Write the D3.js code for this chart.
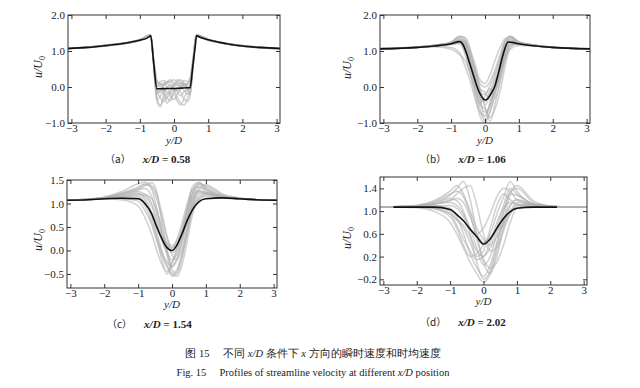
<!DOCTYPE html>
<html>
<head>
<meta charset="utf-8">
<script src="https://cdn.jsdelivr.net/npm/d3@7"></script>
<style>
    body { margin: 0; background: #fff; }
    svg { display: block; }
    text { font-family: "Liberation Serif", "DejaVu Serif", serif; fill: #222; }
</style>
</head>
<body>
<div id="chart"></div>
<script>
// ---- data ----
const xTicks = [-3, -2, -1, 0, 1, 2, 3];
const yTicksAB = [-1, 0, 1, 2];
const yTicksC = [-0.5, 0, 0.5, 1.0, 1.5];
const yTicksD = [-0.2, 0.2, 0.6, 1.0, 1.4];

// (a) x/D = 0.58
const aMeanX = [-3.1, -2.5, -2, -1.5, -1, -0.8, -0.68, -0.6, -0.5, -0.4, -0.2, 0, 0.2, 0.4, 0.47, 0.55, 0.62, 0.66, 0.8, 1, 1.5, 2, 2.5, 3.1];
const aMean = [1.07, 1.10, 1.15, 1.21, 1.30, 1.35, 1.42, 0.72, -0.05, -0.05, -0.04, -0.04, -0.03, -0.02, -0.02, 0.58, 1.12, 1.42, 1.37, 1.31, 1.21, 1.14, 1.10, 1.07];
const aGrayX = [-3.1, -2, -1, -0.68, -0.6, -0.5, -0.4, -0.3, -0.2, -0.1, 0, 0.1, 0.2, 0.3, 0.4, 0.47, 0.55, 0.65, 1, 2, 3.1];
const aGray = [
    [1.07, 1.15, 1.30, 1.43, 0.75, 0.10, 0.15, 0.18, 0.12, 0.16, 0.20, 0.14, 0.10, 0.18, 0.15, 0.18, 0.65, 1.43, 1.31, 1.14, 1.07],
    [1.08, 1.16, 1.31, 1.45, 0.70, -0.30, -0.50, -0.35, -0.20, -0.10, -0.05, -0.15, -0.25, -0.12, -0.05, 0.00, 0.60, 1.45, 1.32, 1.15, 1.07],
    [1.07, 1.14, 1.29, 1.41, 0.70, -0.20, -0.10, 0.05, 0.10, 0.00, -0.10, -0.30, -0.45, -0.50, -0.30, -0.10, 0.55, 1.41, 1.30, 1.13, 1.06],
    [1.06, 1.15, 1.30, 1.42, 0.78, 0.05, 0.00, -0.05, -0.15, -0.20, -0.10, 0.00, 0.05, 0.10, 0.05, 0.10, 0.62, 1.42, 1.31, 1.14, 1.06],
    [1.07, 1.16, 1.32, 1.44, 0.72, -0.10, -0.30, -0.40, -0.30, -0.15, 0.05, 0.10, 0.00, -0.10, -0.20, -0.15, 0.50, 1.44, 1.33, 1.15, 1.07],
    [1.07, 1.15, 1.30, 1.42, 0.80, 0.15, 0.10, 0.05, 0.15, 0.20, 0.10, 0.05, 0.12, 0.05, 0.10, 0.25, 0.70, 1.42, 1.31, 1.14, 1.07],
    [1.08, 1.14, 1.29, 1.40, 0.65, -0.35, -0.25, -0.10, -0.05, -0.25, -0.35, -0.20, -0.05, 0.05, 0.00, -0.05, 0.55, 1.40, 1.30, 1.14, 1.07],
    [1.06, 1.15, 1.31, 1.43, 0.74, 0.00, 0.10, -0.10, -0.30, -0.38, -0.20, -0.40, -0.50, -0.30, -0.10, 0.05, 0.60, 1.43, 1.32, 1.14, 1.06],
    [1.07, 1.15, 1.30, 1.41, 0.76, -0.05, -0.15, 0.05, 0.15, 0.12, 0.00, 0.15, 0.20, 0.10, -0.05, -0.20, 0.50, 1.41, 1.30, 1.13, 1.06],
    [1.07, 1.16, 1.31, 1.44, 0.70, -0.40, -0.55, -0.20, 0.00, 0.05, -0.05, -0.10, 0.00, 0.08, -0.08, 0.02, 0.65, 1.44, 1.32, 1.15, 1.07],
    [1.07, 1.15, 1.31, 1.46, 0.85, 0.20, 0.05, 0.12, 0.00, -0.05, 0.08, 0.20, 0.15, 0.00, 0.12, 0.22, 0.75, 1.46, 1.32, 1.14, 1.07],
    [1.07, 1.14, 1.30, 1.42, 0.72, -0.15, -0.05, -0.20, -0.45, -0.30, -0.15, -0.05, -0.15, -0.35, -0.40, -0.25, 0.45, 1.42, 1.31, 1.14, 1.07]
];

// (b) x/D = 1.06
const bMeanX = [-3.1, -2, -1.5, -1, -0.75, -0.65, -0.55, -0.45, -0.35, -0.25, -0.15, -0.05, 0.02, 0.1, 0.2, 0.3, 0.4, 0.5, 0.6, 0.68, 0.8, 1, 1.5, 2, 3.1];
const bMean = [1.06, 1.10, 1.14, 1.20, 1.26, 1.18, 0.95, 0.65, 0.35, 0.05, -0.18, -0.33, -0.36, -0.30, -0.15, 0.05, 0.40, 0.78, 1.10, 1.25, 1.24, 1.20, 1.14, 1.10, 1.06];
const bGrayX = [-3.1, -2, -1.5, -1, -0.75, -0.6, -0.45, -0.3, -0.15, 0, 0.15, 0.3, 0.45, 0.6, 0.75, 1, 1.5, 2, 3.1];
const bGray = [
    [1.06, 1.11, 1.16, 1.24, 1.38, 1.30, 0.90, 0.30, -0.40, -0.70, -0.50, 0.00, 0.60, 1.20, 1.40, 1.26, 1.16, 1.11, 1.06],
    [1.06, 1.10, 1.14, 1.18, 1.20, 0.95, 0.40, -0.10, -0.60, -0.95, -0.70, -0.20, 0.40, 0.95, 1.20, 1.18, 1.14, 1.10, 1.06],
    [1.07, 1.11, 1.15, 1.22, 1.30, 1.20, 0.85, 0.45, 0.10, 0.00, 0.15, 0.50, 0.90, 1.25, 1.32, 1.22, 1.15, 1.10, 1.06],
    [1.06, 1.10, 1.13, 1.10, 0.95, 0.60, 0.20, -0.30, -0.70, -0.80, -0.50, -0.10, 0.30, 0.80, 1.15, 1.20, 1.15, 1.10, 1.06],
    [1.06, 1.11, 1.16, 1.25, 1.42, 1.35, 1.00, 0.50, -0.10, -0.50, -0.20, 0.30, 0.85, 1.30, 1.42, 1.25, 1.16, 1.11, 1.06],
    [1.06, 1.10, 1.14, 1.20, 1.25, 1.10, 0.60, 0.00, -0.50, -0.60, -0.85, -0.60, -0.10, 0.60, 1.10, 1.22, 1.15, 1.10, 1.06],
    [1.07, 1.10, 1.14, 1.19, 1.22, 1.05, 0.75, 0.30, -0.20, -0.20, 0.05, 0.40, 0.75, 1.15, 1.30, 1.22, 1.14, 1.10, 1.06],
    [1.06, 1.11, 1.15, 1.23, 1.35, 1.25, 0.80, 0.10, -0.45, -0.25, -0.05, -0.30, 0.20, 0.90, 1.25, 1.21, 1.15, 1.10, 1.06],
    [1.06, 1.10, 1.12, 1.05, 0.90, 0.75, 0.40, 0.00, -0.30, -0.40, -0.10, 0.20, 0.50, 0.85, 1.05, 1.15, 1.14, 1.10, 1.06],
    [1.06, 1.10, 1.14, 1.21, 1.30, 1.15, 0.70, 0.25, -0.05, -0.15, -0.35, -0.05, 0.45, 1.10, 1.35, 1.24, 1.15, 1.10, 1.06],
    [1.06, 1.10, 1.15, 1.22, 1.28, 1.00, 0.45, -0.20, -0.80, -1.00, -0.65, -0.15, 0.35, 0.95, 1.25, 1.21, 1.15, 1.10, 1.06],
    [1.07, 1.11, 1.15, 1.22, 1.32, 1.28, 1.05, 0.65, 0.20, 0.10, 0.35, 0.75, 1.10, 1.35, 1.38, 1.23, 1.15, 1.10, 1.06],
    [1.06, 1.10, 1.14, 1.20, 1.28, 1.22, 0.95, 0.55, 0.00, -0.55, -0.95, -0.45, 0.15, 0.75, 1.18, 1.20, 1.14, 1.10, 1.06],
    [1.06, 1.11, 1.15, 1.24, 1.40, 1.38, 1.10, 0.40, -0.25, -0.90, -0.40, 0.10, 0.70, 1.28, 1.40, 1.24, 1.15, 1.10, 1.06]
];

// (c) x/D = 1.54
const cMeanX = [-3.1, -2.5, -2, -1.5, -1, -0.8, -0.6, -0.45, -0.3, -0.15, 0, 0.15, 0.3, 0.45, 0.6, 0.8, 1, 1.5, 2, 2.5, 3.1];
const cMean = [1.07, 1.08, 1.10, 1.11, 1.10, 1.00, 0.78, 0.50, 0.25, 0.06, 0.00, 0.12, 0.36, 0.64, 0.86, 1.04, 1.10, 1.12, 1.10, 1.08, 1.07];
const cGrayX = cMeanX;
const cGray = [
    [1.07, 1.09, 1.13, 1.22, 1.35, 1.42, 1.30, 0.90, 0.40, 0.00, -0.35, -0.20, 0.20, 0.70, 1.10, 1.25, 1.20, 1.13, 1.10, 1.08, 1.07],
    [1.07, 1.08, 1.10, 1.10, 1.05, 0.85, 0.55, 0.20, -0.10, -0.35, -0.50, -0.40, -0.05, 0.45, 0.95, 1.30, 1.40, 1.20, 1.12, 1.08, 1.07],
    [1.07, 1.09, 1.12, 1.18, 1.25, 1.20, 1.00, 0.70, 0.35, 0.10, 0.05, 0.25, 0.60, 1.00, 1.30, 1.35, 1.25, 1.14, 1.10, 1.08, 1.07],
    [1.07, 1.08, 1.11, 1.15, 1.20, 1.10, 0.80, 0.40, 0.00, -0.30, -0.55, -0.45, -0.10, 0.40, 0.85, 1.15, 1.20, 1.14, 1.10, 1.08, 1.07],
    [1.07, 1.09, 1.14, 1.25, 1.42, 1.45, 1.35, 1.10, 0.70, 0.30, 0.05, 0.15, 0.45, 0.90, 1.35, 1.45, 1.30, 1.15, 1.10, 1.08, 1.07],
    [1.07, 1.08, 1.10, 1.08, 0.95, 0.70, 0.35, 0.00, -0.30, -0.45, -0.25, 0.10, 0.50, 0.90, 1.20, 1.28, 1.22, 1.13, 1.10, 1.08, 1.07],
    [1.07, 1.08, 1.11, 1.16, 1.22, 1.15, 0.95, 0.60, 0.20, -0.05, -0.20, -0.05, 0.30, 0.75, 1.15, 1.40, 1.35, 1.16, 1.10, 1.08, 1.07],
    [1.07, 1.09, 1.12, 1.20, 1.30, 1.32, 1.15, 0.80, 0.35, -0.10, -0.50, -0.55, -0.30, 0.20, 0.75, 1.10, 1.18, 1.14, 1.10, 1.08, 1.07],
    [1.07, 1.08, 1.10, 1.12, 1.10, 1.00, 0.80, 0.55, 0.30, 0.15, 0.10, 0.20, 0.40, 0.70, 0.95, 1.10, 1.15, 1.12, 1.10, 1.08, 1.07],
    [1.07, 1.09, 1.13, 1.21, 1.32, 1.40, 1.38, 1.20, 0.80, 0.30, -0.10, -0.20, 0.05, 0.50, 1.00, 1.35, 1.30, 1.15, 1.10, 1.08, 1.07],
    [1.07, 1.08, 1.11, 1.14, 1.15, 1.05, 0.70, 0.30, -0.05, -0.25, -0.35, -0.15, 0.20, 0.60, 1.05, 1.25, 1.24, 1.14, 1.10, 1.08, 1.07],
    [1.07, 1.08, 1.10, 1.13, 1.18, 1.18, 1.10, 0.85, 0.50, 0.15, -0.05, 0.05, 0.35, 0.80, 1.20, 1.42, 1.38, 1.18, 1.11, 1.08, 1.07],
    [1.07, 1.09, 1.12, 1.19, 1.28, 1.38, 1.44, 1.25, 0.60, 0.05, -0.40, -0.50, -0.15, 0.35, 0.90, 1.20, 1.22, 1.14, 1.10, 1.08, 1.07],
    [1.07, 1.08, 1.10, 1.12, 1.12, 0.95, 0.60, 0.25, -0.20, -0.50, -0.30, 0.00, 0.40, 0.85, 1.25, 1.44, 1.32, 1.15, 1.10, 1.08, 1.07]
];

// (d) x/D = 2.02
const dMeanX = [-2.7, -2, -1.5, -1, -0.8, -0.6, -0.4, -0.2, 0, 0.2, 0.4, 0.6, 0.8, 1, 1.5, 2.2];
const dMean = [1.07, 1.07, 1.07, 1.03, 0.94, 0.83, 0.68, 0.55, 0.42, 0.51, 0.70, 0.87, 0.99, 1.05, 1.07, 1.07];
const dGrayX = [-3.1, -2.5, -2, -1.5, -1, -0.8, -0.6, -0.4, -0.2, 0, 0.2, 0.4, 0.6, 0.8, 1, 1.5, 2, 2.5, 3.1];
const dGray = [
    [1.07, 1.08, 1.10, 1.15, 1.28, 1.40, 1.52, 1.20, 0.60, 0.10, -0.10, 0.20, 0.70, 1.10, 1.20, 1.10, 1.08, 1.07, 1.07],
    [1.07, 1.07, 1.06, 1.00, 0.80, 0.60, 0.35, 0.10, -0.10, -0.25, -0.10, 0.30, 0.80, 1.30, 1.45, 1.18, 1.09, 1.07, 1.07],
    [1.07, 1.08, 1.09, 1.12, 1.18, 1.22, 1.15, 0.90, 0.60, 0.45, 0.60, 0.95, 1.25, 1.52, 1.35, 1.12, 1.08, 1.07, 1.07],
    [1.07, 1.07, 1.07, 1.05, 0.95, 0.75, 0.50, 0.30, 0.15, 0.20, 0.45, 0.80, 1.05, 1.15, 1.12, 1.08, 1.07, 1.07, 1.07],
    [1.07, 1.08, 1.10, 1.16, 1.30, 1.35, 1.25, 0.95, 0.50, 0.15, 0.00, 0.10, 0.40, 0.80, 1.05, 1.12, 1.09, 1.07, 1.07],
    [1.07, 1.07, 1.07, 1.08, 1.10, 1.05, 0.90, 0.70, 0.60, 0.70, 0.95, 1.25, 1.40, 1.35, 1.20, 1.10, 1.08, 1.07, 1.07],
    [1.07, 1.07, 1.08, 1.10, 1.05, 0.90, 0.60, 0.25, 0.00, -0.15, 0.05, 0.45, 0.85, 1.10, 1.20, 1.12, 1.08, 1.07, 1.07],
    [1.07, 1.08, 1.09, 1.13, 1.20, 1.30, 1.40, 1.45, 1.10, 0.60, 0.30, 0.35, 0.65, 0.95, 1.10, 1.10, 1.08, 1.07, 1.07],
    [1.07, 1.07, 1.07, 1.04, 0.90, 0.70, 0.40, 0.20, 0.25, 0.40, 0.55, 0.65, 0.80, 1.00, 1.15, 1.12, 1.08, 1.07, 1.07],
    [1.07, 1.08, 1.09, 1.12, 1.15, 1.10, 0.95, 0.70, 0.35, 0.05, 0.20, 0.60, 1.00, 1.30, 1.28, 1.12, 1.08, 1.07, 1.07],
    [1.07, 1.07, 1.08, 1.09, 1.00, 0.85, 0.75, 0.55, 0.30, 0.20, 0.35, 0.55, 0.75, 0.95, 1.10, 1.12, 1.09, 1.07, 1.07],
    [1.07, 1.08, 1.10, 1.18, 1.35, 1.45, 1.30, 1.00, 0.70, 0.50, 0.40, 0.70, 1.10, 1.40, 1.30, 1.12, 1.08, 1.07, 1.07],
    [1.07, 1.07, 1.08, 1.12, 1.22, 1.18, 1.00, 0.60, 0.10, -0.20, -0.05, 0.40, 0.95, 1.35, 1.40, 1.15, 1.08, 1.07, 1.07],
    [1.07, 1.08, 1.09, 1.06, 0.95, 0.85, 0.70, 0.45, 0.20, 0.30, 0.70, 1.10, 1.30, 1.20, 1.12, 1.09, 1.08, 1.07, 1.07]
];

const fmtY1 = d3.format(".1f");
const minus = s => s.replace("-", "\u2212");

function panel(svg, p) {
    const x = d3.scaleLinear().domain([-3.1, 3.1]).range([p.left, p.right]);
    const y = d3.scaleLinear().domain(p.yDomain).range([p.bottom, p.top]);
    const g = svg.append("g");

    const line = d3.line()
        .x(d => x(d[0]))
        .y(d => y(d[1]))
        .curve(d3.curveMonotoneX);

    const clipId = "clip" + p.name;
    svg.append("clipPath").attr("id", clipId)
        .append("rect")
        .attr("x", p.left).attr("y", p.top)
        .attr("width", p.right - p.left).attr("height", p.bottom - p.top);

    const plot = g.append("g").attr("clip-path", "url(#" + clipId + ")");

    plot.selectAll("path.gray")
        .data(p.gray)
        .enter()
        .append("path")
        .attr("class", "gray")
        .attr("d", vals => line(p.grayX.map((v, i) => [v, vals[i]])))
        .attr("fill", "none")
        .attr("stroke", "#b0b0b0")
        .attr("stroke-opacity", 0.6)
        .attr("stroke-width", 1.5);

    plot.append("path")
        .attr("d", line(p.meanX.map((v, i) => [v, p.mean[i]])))
        .attr("fill", "none")
        .attr("stroke", "#111")
        .attr("stroke-width", 1.6);

    // frame
    g.append("rect")
        .attr("x", p.left).attr("y", p.top)
        .attr("width", p.right - p.left).attr("height", p.bottom - p.top)
        .attr("fill", "none")
        .attr("stroke", "#333")
        .attr("stroke-width", 1);

    // inward ticks on all sides
    const tl = 4;
    g.append("g").attr("transform", "translate(0," + p.bottom + ")")
        .call(d3.axisBottom(x).tickValues(xTicks).tickSize(-tl).tickPadding(1)
            .tickFormat(d => minus(String(d))))
        .call(a => a.select(".domain").remove());
    g.append("g").attr("transform", "translate(0," + p.top + ")")
        .call(d3.axisTop(x).tickValues(xTicks).tickSize(-tl).tickFormat(""))
        .call(a => a.select(".domain").remove());
    g.append("g").attr("transform", "translate(" + p.left + ",0)")
        .call(d3.axisLeft(y).tickValues(p.yTicks).tickSize(-tl).tickPadding(3)
            .tickFormat(d => minus(fmtY1(d))))
        .call(a => a.select(".domain").remove());
    g.append("g").attr("transform", "translate(" + p.right + ",0)")
        .call(d3.axisRight(y).tickValues(p.yTicks).tickSize(-tl).tickFormat(""))
        .call(a => a.select(".domain").remove());

    g.selectAll("g").filter(function () { return this.hasAttribute("font-family"); })
        .attr("font-family", "Liberation Serif")
        .attr("font-size", 11);
    g.selectAll(".tick line").attr("stroke", "#333");
    g.selectAll(".tick text").attr("fill", "#222");

    // axis titles
    g.append("text")
        .attr("x", (p.left + p.right) / 2)
        .attr("y", p.xLabelY)
        .attr("text-anchor", "middle")
        .attr("font-size", 11)
        .attr("font-style", "italic")
        .text("y/D");

    const yl = g.append("text")
        .attr("transform", "translate(" + p.yLabelX + "," + p.yLabelY + ") rotate(-90)")
        .attr("text-anchor", "middle")
        .attr("font-size", 12)
        .attr("font-style", "italic");
    yl.append("tspan").text("u/U");
    yl.append("tspan").attr("font-size", 8).attr("dy", 3).attr("font-style", "normal").text("0");

    // sub caption
    const cap = svg.append("text")
        .attr("x", p.capX)
        .attr("y", p.capY)
        .attr("font-size", 11);
    cap.append("tspan").attr("font-family", "Noto Sans CJK SC").attr("font-size", 10).text("\uff08" + p.name + "\uff09");
    cap.append("tspan").attr("dx", 12).attr("font-style", "italic").attr("font-weight", "bold").text("x/D");
    cap.append("tspan").attr("font-weight", "bold").text(" = " + p.value);
}

function init() {
    const svg = d3.select("#chart")
        .append("svg")
        .attr("width", 640)
        .attr("height", 388);

    panel(svg, {
        name: "a", value: "0.58",
        left: 68, right: 280, top: 15, bottom: 123,
        yDomain: [-1, 2], yTicks: yTicksAB,
        meanX: aMeanX, mean: aMean, grayX: aGrayX, gray: aGray,
        xLabelY: 144, yLabelX: 42, yLabelY: 67,
        capX: 105, capY: 163
    });
    panel(svg, {
        name: "b", value: "1.06",
        left: 380, right: 590, top: 15, bottom: 123,
        yDomain: [-1, 2], yTicks: yTicksAB,
        meanX: bMeanX, mean: bMean, grayX: bGrayX, gray: bGray,
        xLabelY: 144, yLabelX: 351, yLabelY: 68,
        capX: 420, capY: 163
    });
    panel(svg, {
        name: "c", value: "1.54",
        left: 67, right: 277, top: 180, bottom: 288,
        yDomain: [-0.8, 1.5], yTicks: yTicksC,
        meanX: cMeanX, mean: cMean, grayX: cGrayX, gray: cGray,
        xLabelY: 308, yLabelX: 42, yLabelY: 240,
        capX: 107, capY: 328
    });
    panel(svg, {
        name: "d", value: "2.02",
        left: 380, right: 587, top: 177, bottom: 285,
        yDomain: [-0.3, 1.6], yTicks: yTicksD,
        meanX: dMeanX, mean: dMean, grayX: dGrayX, gray: dGray,
        xLabelY: 305, yLabelX: 351, yLabelY: 238,
        capX: 420, capY: 326
    });

    // figure caption
    const zh = svg.append("text")
        .attr("x", 313).attr("y", 357)
        .attr("text-anchor", "middle")
        .attr("font-family", "Noto Sans CJK SC")
        .attr("font-size", 10.5);
    zh.append("tspan").text("图 15\u3000 不同 ");
    zh.append("tspan").attr("font-family", "Liberation Serif").attr("font-style", "italic").text("x/D");
    zh.append("tspan").text(" 条件下 ");
    zh.append("tspan").attr("font-family", "Liberation Serif").attr("font-style", "italic").text("x");
    zh.append("tspan").text(" 方向的瞬时速度和时均速度");

    const en = svg.append("text")
        .attr("x", 313).attr("y", 376)
        .attr("text-anchor", "middle")
        .attr("font-size", 10.5);
    en.append("tspan").text("Fig. 15\u2003 Profiles of streamline velocity at different ");
    en.append("tspan").attr("font-style", "italic").text("x/D");
    en.append("tspan").text(" position");
}

window.onload = init;
</script>
</body>
</html>
